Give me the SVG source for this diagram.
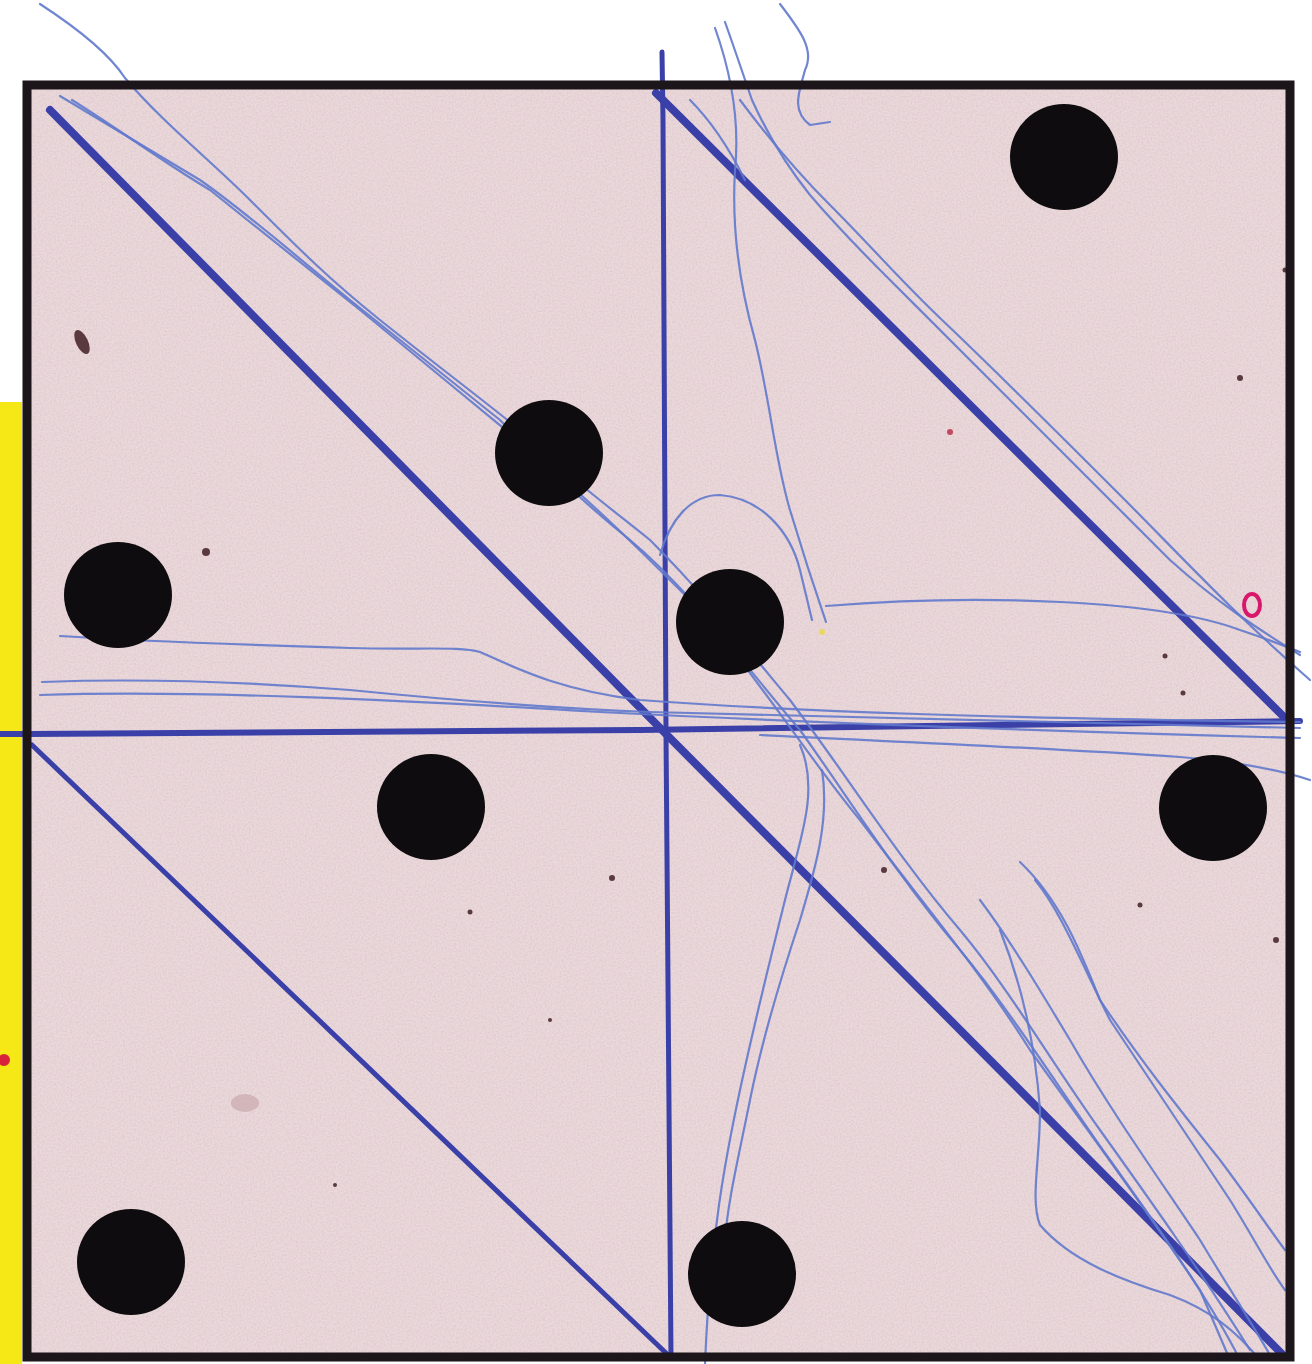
<svg xmlns="http://www.w3.org/2000/svg" width="1312" height="1364" viewBox="0 0 1312 1364">
<defs>
<filter id="grain" x="0" y="0" width="100%" height="100%">
<feTurbulence type="fractalNoise" baseFrequency="0.55" numOctaves="2" seed="7" result="n"/>
<feColorMatrix type="matrix" values="0 0 0 0 0.55  0 0 0 0 0.42  0 0 0 0 0.48  0 0 0 -1.6 1.05" in="n"/>
</filter>
<style>
.dot{fill:#0e0c0e}
.thick{stroke:#3a40a8;fill:none;stroke-linecap:round}
.thin{stroke:#6279cc;fill:none;stroke-width:2.2;stroke-linecap:round;stroke-linejoin:round;opacity:0.9}
.speck{fill:#5a3a3e}
</style>
</defs>
<rect width="1312" height="1364" fill="#ffffff"/>
<rect id="yellow-strip" x="0" y="402" width="22" height="962" fill="#f6e816"/>
<circle cx="4" cy="1060" r="6" fill="#d8243a"/>
<g id="paper">
<rect x="27" y="85" width="1263" height="1275" fill="#ebd8da"/>
<rect x="27" y="85" width="1263" height="1275" filter="url(#grain)" opacity="0.35"/>
</g>
<g id="specks">
<ellipse class="speck" cx="82" cy="342" rx="6" ry="13" transform="rotate(-25 82 342)"/>
<circle class="speck" cx="206" cy="552" r="4"/>
<circle class="speck" cx="1240" cy="378" r="3"/>
<circle class="speck" cx="1285" cy="270" r="2.5"/>
<circle class="speck" cx="1165" cy="656" r="2.5"/>
<circle class="speck" cx="1183" cy="693" r="2.5"/>
<circle class="speck" cx="884" cy="870" r="3"/>
<circle class="speck" cx="1140" cy="905" r="2.5"/>
<circle class="speck" cx="1276" cy="940" r="3"/>
<circle class="speck" cx="470" cy="912" r="2.5"/>
<circle class="speck" cx="550" cy="1020" r="2"/>
<circle class="speck" cx="335" cy="1185" r="2"/>
<circle class="speck" cx="612" cy="878" r="3" fill="#8a4a52"/>
<ellipse cx="245" cy="1103" rx="14" ry="9" fill="#c4a2a6" opacity="0.6"/>
<circle cx="950" cy="432" r="3" fill="#c04a60"/>
<ellipse cx="1252" cy="605" rx="8" ry="11" fill="none" stroke="#d8186a" stroke-width="4"/>
<circle cx="822" cy="632" r="3" fill="#e8d860"/>
</g>
<g id="connectors">
<path class="thick" d="M662 52 L663 120 L666 733 L671 1358" stroke-width="5"/>
<path class="thick" d="M0 734 L30 734 L640 730 L1300 721" stroke-width="6"/>
<path class="thick" d="M50 110 L665 733 L1283 1355" stroke-width="8"/>
<path class="thick" d="M656 93 L1290 723" stroke-width="8"/>
<path class="thick" d="M32 745 L668 1355" stroke-width="5"/>
<path class="thin" d="M40 4 C80 30 110 55 125 78 C160 120 210 160 250 200 C300 250 330 280 380 320 C430 360 470 390 520 430 C560 470 600 500 650 540 C700 590 740 640 790 700 C850 780 900 860 960 930 C1010 990 1050 1060 1100 1130 C1150 1200 1200 1270 1250 1350"/>
<path class="thin" d="M60 96 C100 120 150 150 200 180 C250 215 300 260 350 300 C400 340 450 380 500 420 C540 460 580 500 630 540 C690 590 740 660 800 730 C850 800 900 880 960 950 C1010 1010 1060 1090 1110 1160 C1160 1230 1210 1300 1240 1360"/>
<path class="thin" d="M72 100 C120 130 160 160 210 190 C260 230 310 270 360 310 C420 360 470 400 530 450 C600 510 640 550 700 610 C760 680 810 760 860 820 C920 900 980 970 1030 1050 C1080 1120 1140 1200 1200 1290 L1230 1360"/>
<path class="thin" d="M690 100 C710 120 730 150 745 180"/>
<path class="thin" d="M725 22 C735 50 745 80 752 100 C770 140 790 170 810 195 C840 230 860 250 885 275 C920 310 950 340 990 380 C1050 440 1110 500 1170 560 C1220 605 1260 630 1300 655"/>
<path class="thin" d="M740 100 C770 140 800 175 830 205 C870 245 900 280 940 318 C1000 375 1060 435 1120 495 C1180 555 1230 610 1310 680"/>
<path class="thin" d="M780 4 C800 30 815 50 805 70 C800 90 790 110 810 125 L830 122" opacity="0.6" stroke-width="1.5"/>
<path class="thin" d="M715 28 C730 70 740 120 735 170 C732 220 738 280 755 340 C770 400 775 460 790 510 C805 560 815 590 826 622"/>
<path class="thin" d="M660 555 C670 520 690 495 720 495 C760 498 790 530 800 570 L812 620"/>
<path class="thin" d="M826 606 C900 600 980 598 1060 602 C1140 606 1200 615 1240 630 C1270 640 1290 648 1300 652"/>
<path class="thin" d="M60 636 C150 642 250 645 350 648 C420 650 460 646 480 652 C520 670 560 690 640 700 C800 712 1000 718 1300 722"/>
<path class="thin" d="M42 682 C150 678 250 682 350 690 C450 700 550 708 650 712 C800 716 1000 722 1300 728"/>
<path class="thin" d="M40 695 C200 690 400 700 600 712 C800 722 1000 730 1300 738"/>
<path class="thin" d="M760 735 C900 742 1050 748 1180 757 C1240 762 1280 770 1310 780"/>
<path class="thin" d="M800 745 C820 790 800 840 785 900 C770 960 755 1020 740 1090 C725 1160 710 1240 705 1364"/>
<path class="thin" d="M822 770 C830 820 815 870 800 920 C780 980 762 1040 750 1100 C738 1160 728 1200 725 1240"/>
<path class="thin" d="M1000 930 C1020 980 1035 1040 1040 1110 C1040 1160 1030 1200 1040 1225 C1070 1260 1120 1280 1170 1295 C1210 1310 1235 1330 1260 1360"/>
<path class="thin" d="M1020 862 C1060 900 1080 950 1100 1000 C1140 1060 1180 1110 1220 1160 C1250 1200 1270 1230 1285 1250"/>
<path class="thin" d="M1035 880 C1060 910 1080 960 1110 1020 C1150 1080 1190 1140 1230 1200 C1255 1240 1270 1270 1285 1290"/>
<path class="thin" d="M980 900 C1010 940 1040 990 1070 1040 C1110 1110 1160 1180 1200 1240 C1230 1290 1250 1320 1270 1355"/>
</g>
<g id="dots">
<ellipse id="dot1" class="dot" cx="1064" cy="157" rx="54" ry="53"/>
<ellipse id="dot2" class="dot" cx="549" cy="453" rx="54" ry="53"/>
<ellipse id="dot3" class="dot" cx="118" cy="595" rx="54" ry="53"/>
<ellipse id="dot4" class="dot" cx="730" cy="622" rx="54" ry="53"/>
<ellipse id="dot5" class="dot" cx="431" cy="807" rx="54" ry="53"/>
<ellipse id="dot6" class="dot" cx="1213" cy="808" rx="54" ry="53"/>
<ellipse id="dot7" class="dot" cx="131" cy="1262" rx="54" ry="53"/>
<ellipse id="dot8" class="dot" cx="742" cy="1274" rx="54" ry="53"/>
</g>
<g id="frame">
<rect x="27" y="85" width="1263" height="1272" fill="none" stroke="#1c1519" stroke-width="9"/>
</g>
</svg>
